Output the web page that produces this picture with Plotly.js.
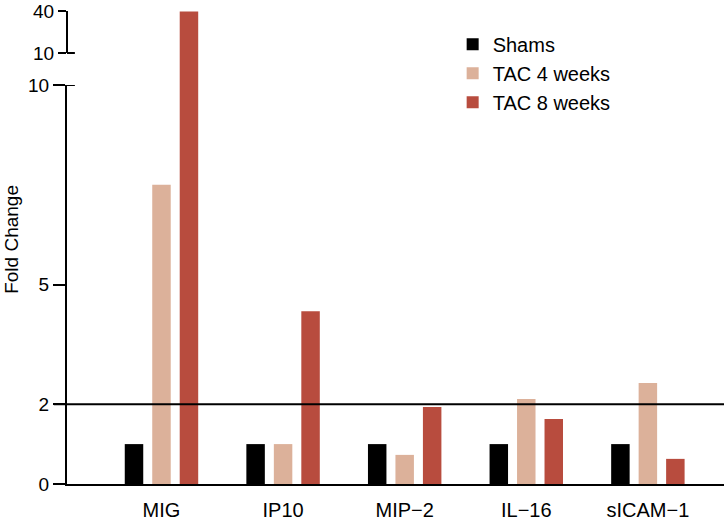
<!DOCTYPE html>
<html>
<head>
<meta charset="utf-8">
<script src="https://cdn.plot.ly/plotly-3.0.1.min.js"></script>
<style>html,body{margin:0;padding:0;background:#fff;}#chart{width:724px;height:521px;}</style>
</head>
<body>
<div id="chart"></div>
<script>
const categories = ["MIG", "IP10", "MIP\u22122", "IL\u221216", "sICAM\u22121"];
const shams = [1, 1, 1, 1, 1];
const tac4 = [7.5, 1, 0.73, 2.13, 2.53];
const tac8 = [39.5, 4.33, 1.93, 1.63, 0.63];
const seriesNames = ["Shams", "TAC 4 weeks", "TAC 8 weeks"];
const colors = ["#000000", "#DCB19A", "#B84C3E"];
const lowerTicks = [0, 2, 5, 10];
const upperTicks = [10, 40];
const breakValue = 10;

const BW = 0.152, PITCH = 0.226;
const offsets = [-PITCH - BW / 2, -BW / 2, PITCH - BW / 2];
const series = [shams, tac4, tac8];

const traces = series.map((vals, i) => ({
  type: "bar", x: categories, y: vals, name: seriesNames[i],
  marker: {color: colors[i], line: {width: 0}},
  width: BW, offset: offsets[i], xaxis: "x", yaxis: "y"
}));
// upper (broken) segment for values above the break
series.forEach((vals, i) => {
  const up = vals.map(v => v > breakValue ? v : null);
  if (up.some(v => v !== null)) {
    traces.push({
      type: "bar", x: categories, y: up, name: seriesNames[i], showlegend: false,
      marker: {color: colors[i], line: {width: 0}},
      width: BW, offset: offsets[i], xaxis: "x", yaxis: "y2", hoverinfo: "skip"
    });
  }
});

const font = {family: "Liberation Sans, Arial, sans-serif", color: "#000"};
const split = 0.8382;
const layout = {
  width: 724, height: 521,
  margin: {l: 67, r: 0, t: 8, b: 37},
  paper_bgcolor: "#fff", plot_bgcolor: "rgba(0,0,0,0)",
  font: Object.assign({size: 19}, font),
  barmode: "overlay",
  showlegend: true,
  legend: {x: 0.587, y: 0.965, xanchor: "left", yanchor: "top",
    font: Object.assign({size: 20}, font), bgcolor: "rgba(0,0,0,0)", tracegroupgap: 0},
  xaxis: {range: [-0.777, 4.626], showline: true, linewidth: 2, linecolor: "#000",
    ticks: "", showgrid: false, zeroline: false, ticklabelstandoff: 7,
    tickfont: Object.assign({size: 20}, font)},
  yaxis: {domain: [0, split], range: [0, 10], tickvals: lowerTicks, ticktext: lowerTicks.map(String),
    ticks: "outside", ticklen: 12, tickwidth: 2, tickcolor: "#000",
    showline: true, linewidth: 2, linecolor: "#000", showgrid: false, zeroline: false,
    tickfont: Object.assign({size: 19}, font)},
  yaxis2: {domain: [split, 1], type: "log", range: [0.541, 1.645], tickvals: upperTicks, ticktext: upperTicks.map(String),
    ticks: "outside", ticklen: 8, tickwidth: 2, tickcolor: "#000",
    showline: false, showgrid: false, zeroline: false,
    tickfont: Object.assign({size: 19}, font)},
  shapes: [
    {type: "line", xref: "paper", yref: "y", x0: -0.02, x1: 1, y0: 2, y1: 2, line: {color: "#000", width: 2}},
    {type: "line", xref: "paper", yref: "y2", x0: 0, x1: 0, y0: 10, y1: 40, line: {color: "#000", width: 2}},
    {type: "line", xref: "paper", yref: "y2", x0: 0, x1: 0.012, y0: 10, y1: 10, line: {color: "#000", width: 2}},
    {type: "line", xref: "paper", yref: "y", x0: 0, x1: 0.012, y0: 10, y1: 10, line: {color: "#000", width: 2}}
  ],
  annotations: [
    {text: "Fold Change", xref: "paper", yref: "paper", x: -0.0837, y: 0.513, xanchor: "center", yanchor: "middle",
     textangle: -90, showarrow: false, font: Object.assign({size: 19}, font)}
  ]
};
Plotly.newPlot("chart", traces, layout, {displayModeBar: false, staticPlot: true});
</script>
</body>
</html>
